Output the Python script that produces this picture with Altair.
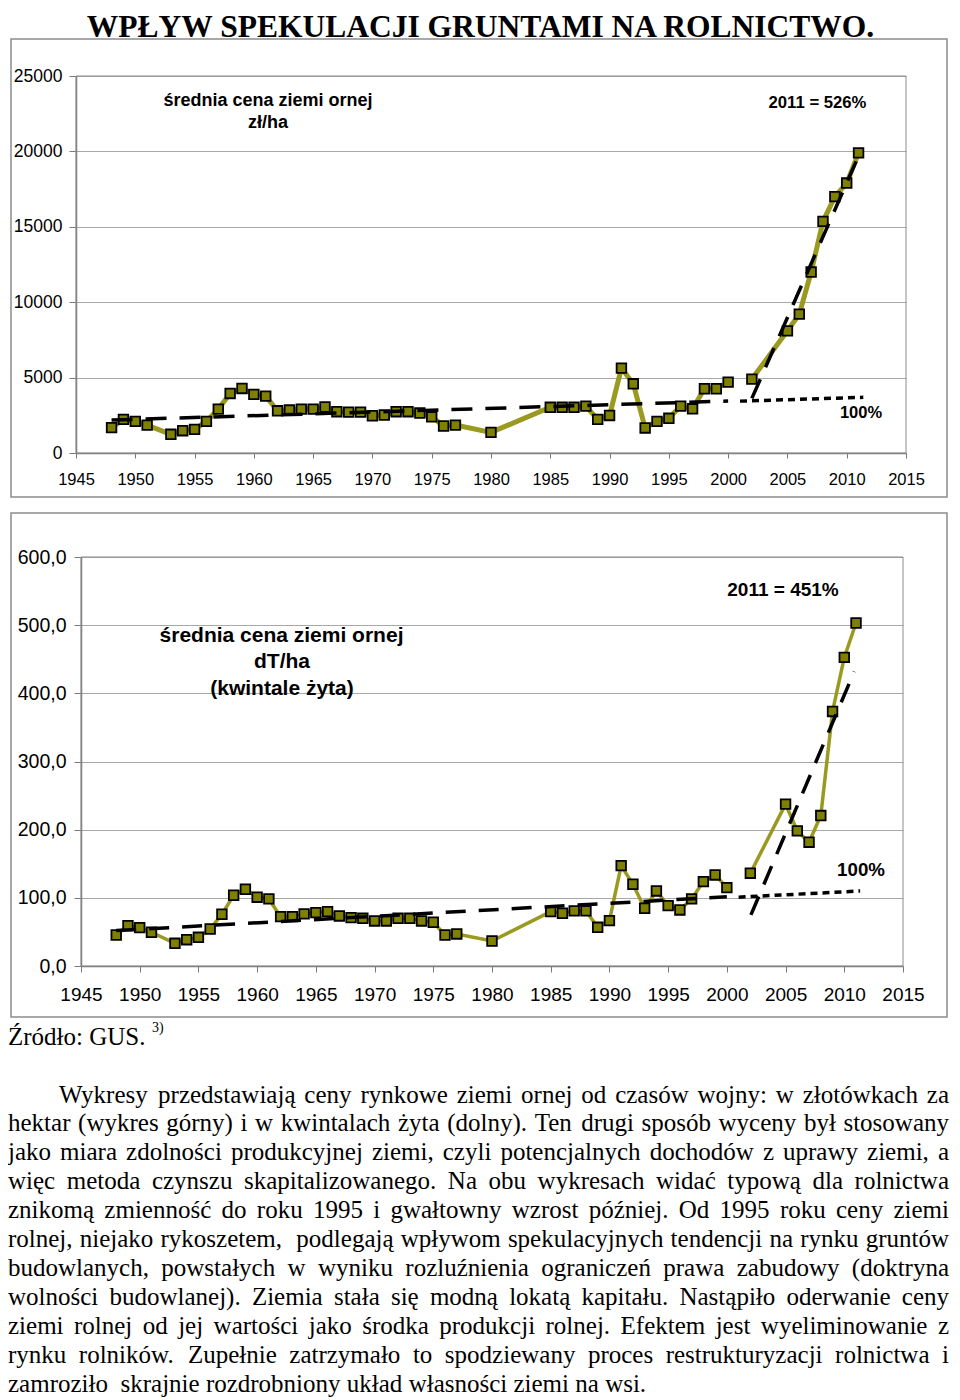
import altair as alt
import pandas as pd

# ---------------- data ----------------
years = [1948, 1949, 1950, 1951, 1953, 1954, 1955, 1956, 1957, 1958, 1959, 1960,
         1961, 1962, 1963, 1964, 1965, 1966, 1967, 1968, 1969, 1970, 1971, 1972,
         1973, 1974, 1975, 1976, 1977, 1980, 1985, 1986, 1987, 1988, 1989, 1990,
         1991, 1992, 1993, 1994, 1995, 1996, 1997, 1998, 1999, 2000, 2002, 2005,
         2006, 2007, 2008, 2009, 2010, 2011]

zl_ha = [1680, 2230, 2100, 1850, 1240, 1480, 1570, 2100, 2910, 3950, 4280, 3890,
         3770, 2800, 2850, 2910, 2910, 3050, 2740, 2710, 2710, 2470, 2520, 2740,
         2740, 2650, 2400, 1790, 1850, 1370, 3030, 3030, 3030, 3110, 2230, 2490,
         5630, 4590, 1660, 2100, 2300, 3110, 2930, 4260, 4260, 4700, 4900, 8100,
         9210, 12000, 15360, 17000, 17900, 19900]

dt_ha = [45.5, 59.2, 56.3, 49.5, 33.3, 38.6, 42.1, 54.3, 75.9, 103.8, 112.6, 100.9,
         98.4, 72.4, 72.4, 76.4, 78.3, 79.7, 73.4, 71.0, 70.0, 66.1, 66.1, 70.0,
         70.0, 66.1, 64.2, 45.5, 47.0, 36.7, 79.7, 77.4, 80.8, 80.8, 56.8, 66.6,
         147.3, 119.9, 84.7, 110.1, 88.6, 82.2, 98.4, 123.8, 133.6, 115.0, 136.1, 237.4,
         198.2, 181.6, 220.7, 373.4, 452.7, 503.2]

# trend lines (end points)
top_dash_years, top_dash_vals = [1948, 2000], [2185, 3445]
top_dot_years, top_dot_vals = [2001, 2011.4], [3440, 3690]
top_steep_years, top_steep_vals = [2002, 2011], [3620, 19700]
bot_dash_years, bot_dash_vals = [1948, 2000], [52, 101.5]
bot_dot_years, bot_dot_vals = [2001, 2011.35], [101, 110]
bot_steep_years, bot_steep_vals = [2002.05, 2010.85], [75, 432]

x_ticks = list(range(1945, 2016, 5))
top_y_ticks = [0, 5000, 10000, 15000, 20000, 25000]
bot_y_ticks = [0, 100, 200, 300, 400, 500, 600]

title_text = "WPŁYW SPEKULACJI GRUNTAMI NA ROLNICTWO."
top_label = ["średnia cena ziemi ornej", "zł/ha"]
bot_label = ["średnia cena ziemi ornej", "dT/ha", "(kwintale żyta)"]
top_pct = "2011 = 526%"
bot_pct = "2011 = 451%"
base_pct = "100%"
source_text = "Źródło: GUS."
source_sup = "3)"

paragraph = [
    "Wykresy przedstawiają ceny rynkowe ziemi ornej od czasów wojny: w złotówkach za",
    "hektar (wykres górny) i w kwintalach żyta (dolny). Ten drugi sposób wyceny był stosowany",
    "jako miara zdolności produkcyjnej ziemi, czyli potencjalnych dochodów z uprawy ziemi, a",
    "więc metoda czynszu skapitalizowanego. Na obu wykresach widać typową dla rolnictwa",
    "znikomą zmienność do roku 1995 i gwałtowny wzrost później. Od 1995 roku ceny ziemi",
    "rolnej, niejako rykoszetem,  podlegają wpływom spekulacyjnych tendencji na rynku gruntów",
    "budowlanych, powstałych w wyniku rozluźnienia ograniczeń prawa zabudowy (doktryna",
    "wolności budowlanej). Ziemia stała się modną lokatą kapitału. Nastąpiło oderwanie ceny",
    "ziemi rolnej od jej wartości jako środka produkcji rolnej. Efektem jest wyeliminowanie z",
    "rynku rolników. Zupełnie zatrzymało to spodziewany proces restrukturyzacji rolnictwa i",
    "zamroziło  skrajnie rozdrobniony układ własności ziemi na wsi.",
]

# ---------------- styles ----------------
SANS = "Liberation Sans"
SERIF = "Liberation Serif"
LINE_C = "#999a1f"
FILL_C = "#808000"
GRID_C = "#a8a8a8"
AXIS_C = "#7a7a7a"
FRAME_C = "#8c8c8c"
one = pd.DataFrame({"a": [0]})


def rect(x1, x2, y1, y2, **kw):
    return alt.Chart(one).mark_rect(**kw).encode(
        x=alt.value(x1), x2=alt.value(x2), y=alt.value(y1), y2=alt.value(y2))


def label(txt, x, y, size, weight="bold", font=SANS, align="center", baseline="middle"):
    return alt.Chart(one).mark_text(
        text=txt, font=font, fontSize=size, fontWeight=weight, align=align,
        baseline=baseline, color="black").encode(x=alt.value(x), y=alt.value(y))


def trend(yrs, vals, X, Y, dash, width):
    df = pd.DataFrame({"year": yrs, "v": vals})
    return alt.Chart(df).mark_line(color="black", strokeWidth=width, strokeDash=dash,
                                   strokeCap="butt").encode(x=X, y=Y)


def series_layers(df, X, Y, lw):
    df = df.copy()
    df["seg"] = (df["year"] > 2001).astype(int)
    base = alt.Chart(df).encode(x=X, y=Y)
    line = base.mark_line(color=LINE_C, strokeWidth=lw).encode(detail="seg:N")
    pts = base.mark_point(shape="square", filled=True, fill=FILL_C, stroke="black",
                          strokeWidth=1.8, size=92, opacity=1)
    return line, pts


# All panels share the same plot origin x (page x = 76).
# ---------------- top chart (origin page 76,76) ----------------
W1, H1 = 830, 377
X1 = alt.X("year:Q", scale=alt.Scale(domain=[1945, 2015], nice=False, zero=False),
           axis=alt.Axis(values=x_ticks, format="d", title=None, grid=False, tickSize=5,
                         labelPadding=13, labelFontSize=16.5, labelFont=SANS,
                         labelColor="black", domainColor=AXIS_C, tickColor=AXIS_C,
                         domainWidth=1.5, labelFlush=False, labelOverlap=False))
Y1 = alt.Y("v:Q", scale=alt.Scale(domain=[0, 25000], nice=False),
           axis=alt.Axis(values=top_y_ticks, format="d", title=None, grid=True,
                         gridColor=GRID_C, gridWidth=1, tickSize=7, labelPadding=7,
                         labelFontSize=17.5, labelFont=SANS, labelColor="black",
                         domainColor=AXIS_C, tickColor=AXIS_C, domainWidth=1.5,
                         labelFlush=False, labelOverlap=False))
top_df = pd.DataFrame({"year": years, "v": zl_ha})
l1, p1 = series_layers(top_df, X1, Y1, 5)

top = alt.layer(
    rect(-68, 874, -68, 429, opacity=0),
    rect(0, W1, 0, H1, fillOpacity=0, stroke=FRAME_C, strokeWidth=1),
    rect(-65, 871, -37, 421, fillOpacity=0, stroke=FRAME_C, strokeWidth=1.5),
    l1, p1,
    trend(top_dash_years, top_dash_vals, X1, Y1, [21, 13], 3.5),
    trend(top_dot_years, top_dot_vals, X1, Y1, [7, 5], 3.5),
    trend(top_steep_years, top_steep_vals, X1, Y1, [21, 13], 3.5),
    label(title_text, 404.5, -39.5, 31.5, font=SERIF, baseline="alphabetic"),
    label(top_label[0], 192, 25, 18),
    label(top_label[1], 192, 47, 18),
    label(top_pct, 741.5, 27, 16.7),
    label(base_pct, 785, 337, 16.5),
).properties(width=W1, height=H1)

# ---------------- bottom chart (origin page 76,557; axis at 81) ----------------
W2, H2 = 827, 409
X2 = alt.X("year:Q", scale=alt.Scale(domain=[1945, 2015], range=[5, 827], nice=False, zero=False),
           axis=alt.Axis(values=x_ticks, format="d", title=None, grid=False, tickSize=6,
                         labelPadding=13, labelFontSize=19, labelFont=SANS,
                         labelColor="black", domainColor=AXIS_C, tickColor=AXIS_C,
                         domainWidth=1.5, labelFlush=False, labelOverlap=False))
Y2 = alt.Y("v:Q", scale=alt.Scale(domain=[0, 600], nice=False),
           axis=alt.Axis(values=bot_y_ticks, title=None, grid=True, offset=-5,
                         labelExpr="replace(format(datum.value, '.1f'), '.', ',')",
                         gridColor=GRID_C, gridWidth=1, tickSize=7, labelPadding=8,
                         labelFontSize=19.5, labelFont=SANS, labelColor="black",
                         domainColor=AXIS_C, tickColor=AXIS_C, domainWidth=1.5,
                         labelFlush=False, labelOverlap=False))
bot_df = pd.DataFrame({"year": years, "v": dt_ha})
l2, p2 = series_layers(bot_df, X2, Y2, 3.5)

bottom = alt.layer(
    rect(-68, 874, -52, 461, opacity=0),
    rect(5, W2, 0, H2, fillOpacity=0, stroke=FRAME_C, strokeWidth=1),
    rect(-65, 871, -44, 460, fillOpacity=0, stroke=FRAME_C, strokeWidth=1.5),
    l2, p2,
    trend(bot_dash_years, bot_dash_vals, X2, Y2, [20, 13], 3.5),
    trend(bot_dot_years, bot_dot_vals, X2, Y2, [7, 5], 3.5),
    trend(bot_steep_years, bot_steep_vals, X2, Y2, [20, 13], 3.5),
    label(bot_label[0], 205.5, 79, 21),
    label(bot_label[1], 206, 105, 21),
    label(bot_label[2], 206, 132, 21),
    label(bot_pct, 707, 33, 19),
    label(base_pct, 785, 313, 18.7),
).properties(width=W2, height=H2)

# ---------------- paragraph (justified), origin page 76,1018 ----------------
TW = {' ': 250, '!': 333, '(': 333, ')': 333, ',': 250, '-': 333, '.': 250, ':': 278, ';': 278,
      'A': 722, 'B': 667, 'C': 667, 'D': 722, 'E': 611, 'F': 556, 'G': 722, 'H': 722, 'I': 333,
      'J': 389, 'K': 722, 'L': 611, 'M': 889, 'N': 722, 'O': 722, 'P': 556, 'Q': 722, 'R': 667,
      'S': 556, 'T': 611, 'U': 722, 'V': 722, 'W': 944, 'X': 722, 'Y': 722, 'Z': 611,
      'a': 444, 'b': 500, 'c': 444, 'd': 500, 'e': 444, 'f': 333, 'g': 500, 'h': 500, 'i': 278,
      'j': 278, 'k': 500, 'l': 278, 'm': 778, 'n': 500, 'o': 500, 'p': 500, 'q': 500, 'r': 333,
      's': 389, 't': 278, 'u': 500, 'v': 500, 'w': 722, 'x': 500, 'y': 500, 'z': 444,
      'ą': 444, 'ć': 444, 'ę': 444, 'ł': 278, 'ń': 500, 'ó': 500, 'ś': 389, 'ź': 444, 'ż': 444,
      'Ź': 611, 'Ż': 611, 'Ł': 611, 'Ś': 556}
FS = 25.0


def tw(s):
    return sum(TW.get(c, 500) for c in s) * FS / 1000.0


P_LEFT, P_RIGHT, P_INDENT = -68, 873, -17
rows = []
for i, ln in enumerate(paragraph):
    toks = ln.split(" ")
    left = P_INDENT if i == 0 else P_LEFT
    last = i == len(paragraph) - 1
    widths = [tw(t) for t in toks]
    gap = tw(" ") if last else (P_RIGHT - left - sum(widths)) / (len(toks) - 1)
    x = left
    for t, w in zip(toks, widths):
        if t:
            rows.append({"w": t, "px": x, "py": 84.5 + 28.9 * i})
        x += w + gap
words = pd.DataFrame(rows)

para = alt.layer(
    alt.Chart(words).mark_text(align="left", baseline="alphabetic", font=SERIF,
                               fontSize=FS, color="black").encode(
        x=alt.X("px:Q", scale=None, axis=None),
        y=alt.Y("py:Q", scale=None, axis=None),
        text="w:N"),
    label(source_text, -68, 27, 25, weight="normal", font=SERIF, align="left",
          baseline="alphabetic"),
    label(source_sup, 76, 14, 14, weight="normal", font=SERIF, align="left",
          baseline="alphabetic"),
).properties(width=860, height=374)

chart = alt.concat(top, bottom, para, columns=1, spacing=0).properties(
    padding=0
).configure_view(stroke=None)

chart.save("out.html", embed_options={"renderer": "svg", "actions": False})
